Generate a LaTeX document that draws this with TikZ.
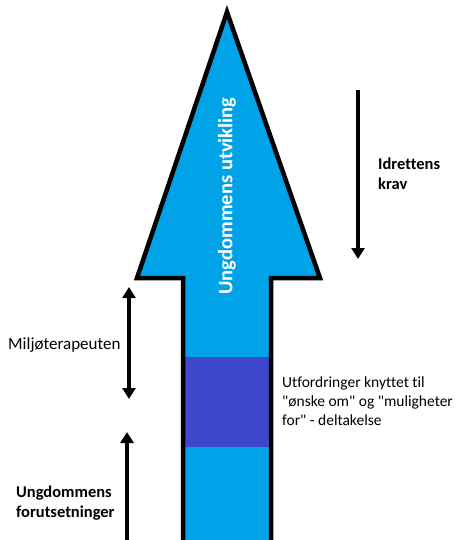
\documentclass[tikz,border=0pt]{standalone}
\usepackage{fontspec}
\setmainfont{Carlito}[Ligatures={TeXOff,CommonOff}]
\usetikzlibrary{arrows.meta,positioning}
\definecolor{shaftblue}{RGB}{0,162,232}
\definecolor{bandindigo}{RGB}{63,72,204}
\begin{document}
\begin{tikzpicture}[x=1pt,y=-1pt,
  lbl/.style={font=\fontsize{17}{19}\selectfont,align=left,anchor=west,inner sep=0pt},
  bold/.style={lbl,font=\fontsize{16.5}{20}\selectfont\bfseries},
  flow/.style={line width=3.5pt,-{Triangle[width=13pt,length=11pt]}},
  both/.style={line width=3.5pt,{Triangle[width=13pt,length=11pt]}-{Triangle[width=13pt,length=11pt]}}]
  \useasboundingbox (0,0) rectangle (464,540);
  % big arrow
  \fill[shaftblue] (183,545) -- (183,278) -- (137,278) -- (227,12) -- (320,278) -- (271,278) -- (271,545) -- cycle;
  \fill[bandindigo] (183,357) rectangle (271,447);
  \draw[line width=4.5pt,line join=miter] (183,545) -- (183,278) -- (137,278) -- (227,12) -- (320,278) -- (271,278) -- (271,545);
  \node[rotate=90,text=white,font=\fontsize{20.5}{22}\selectfont\bfseries\addfontfeature{Kerning=Off}] (growth) at (227,196) {Ungdommens utvikling};
  % side arrows
  \coordinate (demandtop) at (358,90);
  \coordinate (demandbot) at (358,259);
  \draw[flow] (demandtop) -- (demandbot);
  \node[bold] (demand) at (378,174) {Idrettens\\krav};
  \coordinate (therapytop) at (129,287);
  \coordinate (therapybot) at (129,399);
  \draw[both] (therapytop) -- (therapybot);
  \node[lbl] (therapist) at (8,345) {Miljøterapeuten};
  \coordinate (basisbot) at (127,545);
  \coordinate (basistop) at (127,432);
  \draw[flow] (basisbot) -- (basistop);
  \node[bold] (basis) at (16,503) {Ungdommens\\forutsetninger};
  \node[lbl,font=\fontsize{15.5}{19}\selectfont] (challenge) at (282,401) {Utfordringer knyttet til\\"ønske om" og "muligheter\\for" - deltakelse};
\end{tikzpicture}
\end{document}
